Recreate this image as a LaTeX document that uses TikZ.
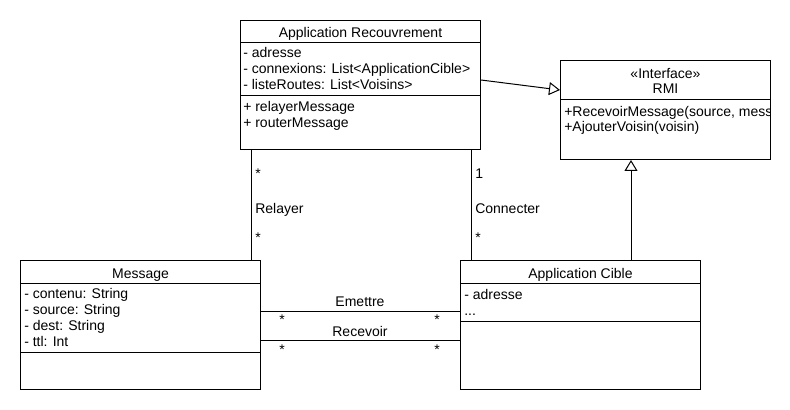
\documentclass[tikz,border=0pt]{standalone}
\usepackage{fontspec}
\setmainfont{Liberation Sans}
\usetikzlibrary{arrows.meta,calc}
\tikzset{
  umlbox/.style={draw,line width=0.75pt,inner sep=0pt,anchor=north west},
  txt/.style={inner sep=0pt,anchor=base west,font=\fontsize{10.5pt}{12pt}\selectfont},
  ttl/.style={inner sep=0pt,anchor=base,font=\fontsize{10.5pt}{12pt}\selectfont},
  sep/.style={line width=0.75pt},
  conn/.style={line width=0.75pt},
  gen/.style={line width=0.75pt,-{Triangle[open,length=8.25pt,width=9.75pt,line width=0.75pt]}}
}
\begin{document}
\begin{tikzpicture}[x=0.75pt,y=-0.75pt]
\fill[white] (0,0) rectangle (790,410);
\useasboundingbox (0,0) rectangle (790,410);

% Application Recouvrement
\node[umlbox,minimum width=180pt,minimum height=96.75pt] (rec) at (240,20) {};
\draw[sep] ($(rec.north west)+(0,23)$) -- ($(rec.north east)+(0,23)$);
\draw[sep] ($(rec.north west)+(0,76)$) -- ($(rec.north east)+(0,76)$);
\node[ttl] (rect) at ($(rec.north)+(0,18)$) {Application Recouvrement};
\node[txt] (reca1) at ($(rec.north west)+(3,38)$) {- adresse};
\node[txt] (reca2) at ($(rec.north west)+(3,54)$) {- connexions: List<ApplicationCible>};
\node[txt] (reca3) at ($(rec.north west)+(3,70)$) {- listeRoutes: List<Voisins>};
\node[txt] (recm1) at ($(rec.north west)+(3,92)$) {+ relayerMessage};
\node[txt] (recm2) at ($(rec.north west)+(3,107.5)$) {+ routerMessage};

% RMI
\node[umlbox,minimum width=157.5pt,minimum height=74.25pt] (rmi) at (560,60) {};
\draw[sep] ($(rmi.north west)+(0,40)$) -- ($(rmi.north east)+(0,40)$);
\node[ttl] (rmis) at ($(rmi.north)+(0,18.3)$) {«Interface»};
\node[ttl] (rmit) at ($(rmi.north)+(0,33.3)$) {RMI};
\begin{scope}
\clip ($(rmi.north west)+(1,1)$) rectangle ($(rmi.south east)+(-1,-1)$);
\node[txt] (rmim1) at ($(rmi.north west)+(4,56.5)$) {+RecevoirMessage(source, message)};
\end{scope}
\node[txt] (rmim2) at ($(rmi.north west)+(4,71.5)$) {+AjouterVoisin(voisin)};

% Message
\node[umlbox,minimum width=180pt,minimum height=96.75pt] (msg) at (20,260) {};
\draw[sep] ($(msg.north west)+(0,23)$) -- ($(msg.north east)+(0,23)$);
\draw[sep] ($(msg.north west)+(0,92)$) -- ($(msg.north east)+(0,92)$);
\node[ttl] (msgt) at ($(msg.north)+(0,18.3)$) {Message};
\node[txt] (msga1) at ($(msg.north west)+(4,38.3)$) {- contenu: String};
\node[txt] (msga2) at ($(msg.north west)+(4,54.3)$) {- source: String};
\node[txt] (msga3) at ($(msg.north west)+(4,70.3)$) {- dest: String};
\node[txt] (msga4) at ($(msg.north west)+(4,86.3)$) {- ttl: Int};

% Application Cible
\node[umlbox,minimum width=180pt,minimum height=96.75pt] (cib) at (460,260) {};
\draw[sep] ($(cib.north west)+(0,23)$) -- ($(cib.north east)+(0,23)$);
\draw[sep] ($(cib.north west)+(0,61)$) -- ($(cib.north east)+(0,61)$);
\node[ttl] (cibt) at ($(cib.north)+(0,18.3)$) {Application Cible};
\node[txt] (ciba1) at ($(cib.north west)+(4,39)$) {- adresse};
\node[txt] (ciba2) at ($(cib.north west)+(4,55)$) {...};

% Relayer
\coordinate (r1) at ($(rec.south west)+(11,0)$);
\draw[conn] (r1) -- (r1 |- msg.north);
\node[txt] (rs1) at (255,179) {*};
\node[txt] (rl) at (255,213.3) {Relayer};
\node[txt] (rs2) at (255,243) {*};

% Connecter
\coordinate (c1) at ($(cib.north west)+(11,0)$);
\draw[conn] (c1 |- rec.south) -- (c1);
\node[txt] (cs1) at (475,178.3) {1};
\node[txt] (cl) at (475,213.3) {Connecter};
\node[txt] (cs2) at (475,243) {*};

% Emettre / Recevoir
\coordinate (e1) at ($(msg.north east)+(0,51)$);
\draw[conn] (e1) -- (e1 -| cib.west);
\node[ttl] (el) at (360,306.7) {Emettre};
\node[ttl] (es1) at (282,324) {*};
\node[ttl] (es2) at (437,324) {*};
\coordinate (v1) at ($(msg.north east)+(0,80)$);
\draw[conn] (v1) -- (v1 -| cib.west);
\node[ttl] (vl) at (360,336) {Recevoir};
\node[ttl] (vs1) at (282,354) {*};
\node[ttl] (vs2) at (437,354) {*};

% Generalizations
\draw[gen] ($(rec.north east)+(0,60)$) -- ($(rmi.north west)+(0,30)$);
\coordinate (g1) at ($(cib.north west)+(171,0)$);
\draw[gen] (g1) -- (g1 |- rmi.south);
\end{tikzpicture}
\end{document}
